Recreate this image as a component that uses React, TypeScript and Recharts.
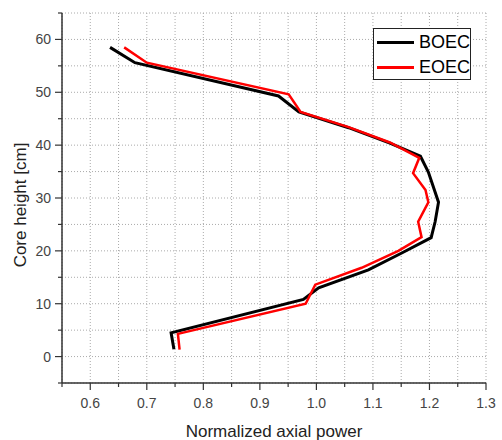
import React from 'react';
import {
    LineChart,
    Line,
    XAxis,
    YAxis,
    CartesianGrid,
    Label
} from 'recharts';

// axial power profiles, read top to bottom of the core
const boecPower = [0.635, 0.679, 0.933, 0.969, 1.057, 1.13, 1.184, 1.198, 1.216, 1.21, 1.203, 1.151, 1.092, 1.004, 0.977, 0.743, 0.748];
const boecHeight = [58.5, 55.6, 49.3, 46.3, 43.3, 40.4, 37.9, 34.9, 29.2, 25.5, 22.5, 19.6, 16.4, 13.0, 10.8, 4.5, 1.4];

const eoecPower = [0.66, 0.70, 0.951, 0.972, 1.057, 1.13, 1.182, 1.171, 1.193, 1.198, 1.18, 1.186, 1.145, 1.08, 0.998, 0.981, 0.755, 0.758];
const eoecHeight = [58.5, 55.6, 49.6, 46.3, 43.4, 40.5, 37.6, 34.7, 31.5, 29.2, 25.5, 22.6, 20.0, 16.8, 13.6, 10.0, 4.3, 1.3];

const xTicks = [0.55, 0.6, 0.65, 0.7, 0.75, 0.8, 0.85, 0.9, 0.95, 1.0, 1.05, 1.1, 1.15, 1.2, 1.25, 1.3];
const yTicks = [-5, 0, 5, 10, 15, 20, 25, 30, 35, 40, 45, 50, 55, 60, 65];

const seriesNames = ['BOEC', 'EOEC'];
const seriesColors = ['#000', '#ff0000'];

const boecData = boecPower.map((p, i) => ({ p, h: boecHeight[i] }));
const eoecData = eoecPower.map((p, i) => ({ p, h: eoecHeight[i] }));

const FONT = '"Liberation Sans", Arial, sans-serif';
const AXIS = '#333';
const TICK_TEXT = '#444';

const isMajorX = (v: number) => Math.abs(v * 10 - Math.round(v * 10)) < 1e-6;
const isMajorY = (v: number) => v % 10 === 0;

// tick renderers draw their own tick marks so majors and minors differ in length
const BottomTick = (props: any) => {
    const { x, y, payload } = props;
    const v = payload.value;
    const major = isMajorX(v);
    return (
        <g>
            <line x1={x} x2={x} y1={y} y2={y + (major ? 7 : 4)} stroke={AXIS} strokeWidth={1.2} />
            {major && v > 0.56 && (
                <text x={x} y={y + 25} textAnchor="middle" fontSize={14} fill={TICK_TEXT} fontFamily={FONT}>
                    {v.toFixed(1)}
                </text>
            )}
        </g>
    );
};

const TopTick = (props: any) => {
    const { x, y, payload } = props;
    const major = isMajorX(payload.value);
    return <line x1={x} x2={x} y1={y} y2={y + (major ? 7 : 4)} stroke={AXIS} strokeWidth={1.2} />;
};

const LeftTick = (props: any) => {
    const { x, y, payload } = props;
    const v = payload.value;
    const major = isMajorY(v);
    return (
        <g>
            <line x1={x} x2={x - (major ? 7 : 4)} y1={y} y2={y} stroke={AXIS} strokeWidth={1.2} />
            {major && v >= 0 && v <= 60 && (
                <text x={x - 11} y={y + 5} textAnchor="end" fontSize={14} fill={TICK_TEXT} fontFamily={FONT}>
                    {v}
                </text>
            )}
        </g>
    );
};

const RightTick = (props: any) => {
    const { x, y, payload } = props;
    const major = isMajorY(payload.value);
    return <line x1={x} x2={x - (major ? 7 : 4)} y1={y} y2={y} stroke={AXIS} strokeWidth={1.2} />;
};

const YTitle = (props: any) => {
    const { viewBox } = props;
    const cx = viewBox.x + 22;
    const cy = viewBox.y + viewBox.height / 2 + 7;
    return (
        <text
            x={cx}
            y={cy}
            transform={`rotate(-90 ${cx} ${cy})`}
            textAnchor="middle"
            dominantBaseline="middle"
            fontSize={17}
            fill="#222"
            fontFamily={FONT}
        >
            Core height [cm]
        </text>
    );
};

const LegendBox = () => (
    <div
        style={{
            position: 'absolute',
            left: 373,
            top: 28,
            width: 96,
            height: 50,
            border: '1px solid #222',
            background: '#fff',
            fontFamily: FONT,
            fontSize: 18,
            color: '#000'
        }}
    >
        {seriesNames.map((name, i) => (
            <div key={name} style={{ display: 'flex', alignItems: 'center', height: 24, marginTop: 1 }}>
                <div style={{ width: 40, height: 3, background: seriesColors[i], marginLeft: 3, marginRight: 5 }} />
                <span>{name}</span>
            </div>
        ))}
    </div>
);

export default function App() {
    return (
        <div style={{ position: 'absolute', left: 0, top: 0, width: 502, height: 440, background: '#fff' }}>
            <LineChart width={502} height={440} margin={{ top: 13, right: 16, left: 0, bottom: 0 }}>
                <CartesianGrid stroke="#aaa" strokeDasharray="1 2" />
                <XAxis
                    type="number"
                    dataKey="p"
                    domain={[0.55, 1.3]}
                    ticks={xTicks}
                    interval={0}
                    allowDataOverflow
                    height={57}
                    tickSize={0}
                    tickMargin={0}
                    tick={<BottomTick />}
                    axisLine={{ stroke: AXIS, strokeWidth: 1.5 }}
                >
                    <Label
                        value="Normalized axial power"
                        position="insideBottom"
                        offset={3}
                        style={{ fontSize: 17, fill: '#222', fontFamily: FONT }}
                    />
                </XAxis>
                <XAxis
                    xAxisId="top"
                    orientation="top"
                    type="number"
                    dataKey="p"
                    domain={[0.55, 1.3]}
                    ticks={xTicks}
                    interval={0}
                    allowDataOverflow
                    height={0}
                    tickSize={0}
                    tickMargin={0}
                    tick={<TopTick />}
                    axisLine={{ stroke: AXIS, strokeWidth: 1.5 }}
                />
                <YAxis
                    type="number"
                    dataKey="h"
                    domain={[-5, 65]}
                    ticks={yTicks}
                    interval={0}
                    allowDataOverflow
                    width={62}
                    tickSize={0}
                    tickMargin={0}
                    tick={<LeftTick />}
                    axisLine={{ stroke: AXIS, strokeWidth: 1.5 }}
                >
                    <Label content={<YTitle />} />
                </YAxis>
                <YAxis
                    yAxisId="right"
                    orientation="right"
                    type="number"
                    dataKey="h"
                    domain={[-5, 65]}
                    ticks={yTicks}
                    interval={0}
                    allowDataOverflow
                    width={0}
                    tickSize={0}
                    tickMargin={0}
                    tick={<RightTick />}
                    axisLine={{ stroke: AXIS, strokeWidth: 1.5 }}
                />
                <Line
                    data={boecData}
                    dataKey="h"
                    name="BOEC"
                    stroke={seriesColors[0]}
                    strokeWidth={3}
                    dot={false}
                    isAnimationActive={false}
                />
                <Line
                    data={eoecData}
                    dataKey="h"
                    name="EOEC"
                    stroke={seriesColors[1]}
                    strokeWidth={2.5}
                    dot={false}
                    isAnimationActive={false}
                />
            </LineChart>
            <LegendBox />
        </div>
    );
}
